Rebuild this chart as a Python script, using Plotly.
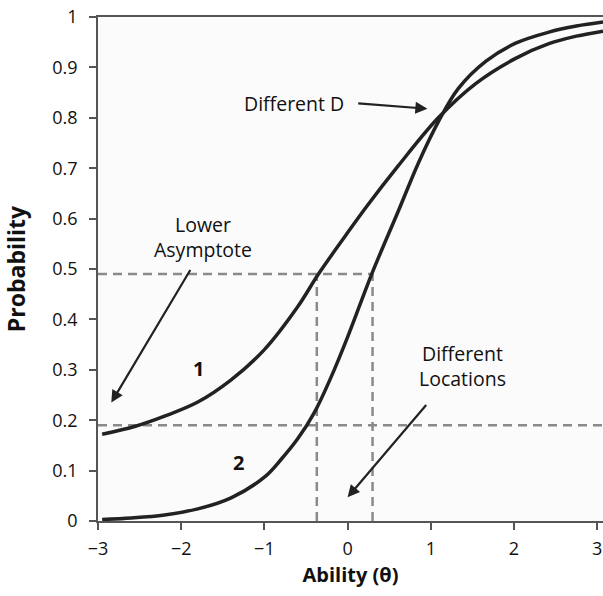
import plotly.graph_objects as go

# Item characteristic curves (ability vs probability of a correct response)
theta_1 = [-2.95, -2.55, -2.20, -1.80, -1.40, -1.00, -0.60, -0.35, -0.03, 0.22, 0.61, 1.09, 1.54, 2.02, 2.42, 2.75, 3.07]
prob_1 = [0.172, 0.188, 0.208, 0.236, 0.280, 0.340, 0.425, 0.490, 0.565, 0.622, 0.705, 0.800, 0.868, 0.918, 0.947, 0.962, 0.972]

theta_2 = [-2.95, -2.60, -2.20, -1.80, -1.40, -1.00, -0.80, -0.60, -0.40, -0.20, 0.00, 0.29, 0.61, 0.85, 1.09, 1.33, 1.66, 2.02, 2.42, 2.75, 3.07]
prob_2 = [0.003, 0.006, 0.012, 0.024, 0.046, 0.087, 0.122, 0.163, 0.215, 0.285, 0.365, 0.490, 0.615, 0.710, 0.792, 0.858, 0.912, 0.948, 0.970, 0.982, 0.990]

# Reference guides: lower asymptote, half-way level and item locations
asymptote_level = 0.19
half_level = 0.49
locations = [-0.37, 0.30]

x_ticks = [-3, -2, -1, 0, 1, 2, 3]
x_tick_text = ["\u22123", "\u22122", "\u22121", "0", "1", "2", "3"]
y_ticks = [0, 0.1, 0.2, 0.3, 0.4, 0.5, 0.6, 0.7, 0.8, 0.9, 1]
y_tick_text = ["0", "0.1", "0.2", "0.3", "0.4", "0.5", "0.6", "0.7", "0.8", "0.9", "1"]

x_min, x_max = -3, 3.07
FONT = "Open Sans, Noto Sans, sans-serif"
dash_style = dict(color="#8a8a8a", width=2.5, dash="9px,6px")
curve_style = dict(color="#222222", width=3.5, shape="spline", smoothing=1.0)

fig = go.Figure()

# dashed guide lines
fig.add_trace(go.Scatter(x=[x_min, x_max], y=[asymptote_level, asymptote_level],
                         mode="lines", line=dash_style, hoverinfo="skip"))
fig.add_trace(go.Scatter(x=[x_min, max(locations)], y=[half_level, half_level],
                         mode="lines", line=dash_style, hoverinfo="skip"))
for loc in locations:
    fig.add_trace(go.Scatter(x=[loc, loc], y=[0, half_level],
                             mode="lines", line=dash_style, hoverinfo="skip"))

# the two curves
fig.add_trace(go.Scatter(x=theta_1, y=prob_1, mode="lines", line=curve_style, name="1"))
fig.add_trace(go.Scatter(x=theta_2, y=prob_2, mode="lines", line=curve_style, name="2"))

text_font = dict(family=FONT, size=19.5, color="#111111")
label_font = dict(family=FONT, size=20, color="#111111")
arrow_kw = dict(showarrow=True, arrowhead=2, arrowsize=1.1, arrowwidth=2.2,
                arrowcolor="#222222", axref="x", ayref="y", xref="x", yref="y")

annotations = [
    dict(x=-1.74, y=0.564, text="Lower<br>Asymptote", showarrow=False,
         font=text_font, xref="x", yref="y", align="center"),
    dict(x=-2.84, y=0.235, ax=-1.88, ay=0.501, text="", **arrow_kw),
    dict(x=-0.65, y=0.829, text="Different D", showarrow=False,
         font=text_font, xref="x", yref="y"),
    dict(x=0.96, y=0.818, ax=0.11, ay=0.829, text="", **arrow_kw),
    dict(x=1.38, y=0.307, text="Different<br>Locations", showarrow=False,
         font=text_font, xref="x", yref="y", align="center"),
    dict(x=0.0, y=0.047, ax=0.96, ay=0.233, text="", **arrow_kw),
    dict(x=-1.79, y=0.303, text="<b>1</b>", showarrow=False,
         font=label_font, xref="x", yref="y"),
    dict(x=-1.31, y=0.117, text="<b>2</b>", showarrow=False,
         font=label_font, xref="x", yref="y"),
]

fig.update_layout(
    width=603, height=596,
    margin=dict(l=98, r=0, t=17, b=75),
    paper_bgcolor="white",
    plot_bgcolor="#fbfbfb",
    showlegend=False,
    font=dict(family=FONT, size=18, color="#111111"),
    annotations=annotations,
    xaxis=dict(
        range=[x_min, x_max], tickvals=x_ticks, ticktext=x_tick_text,
        showgrid=False, zeroline=False, showline=True, linecolor="#555555",
        linewidth=1.5, mirror=True, ticks="outside", ticklen=7,
        tickcolor="#555555", tickwidth=1.5, tickfont=dict(size=18),
        ticklabelstandoff=4,
        title=dict(text="<b>Ability (\u03b8)</b>", font=dict(size=20), standoff=9),
    ),
    yaxis=dict(
        range=[0, 1], tickvals=y_ticks, ticktext=y_tick_text,
        showgrid=False, zeroline=False, showline=True, linecolor="#555555",
        linewidth=1.5, ticks="outside", ticklen=7,
        tickcolor="#555555", tickwidth=1.5, tickfont=dict(size=18),
        ticklabelstandoff=8,
        title=dict(text="<b>Probability</b>", font=dict(size=23), standoff=20),
    ),
)

fig.write_html("out.html")
